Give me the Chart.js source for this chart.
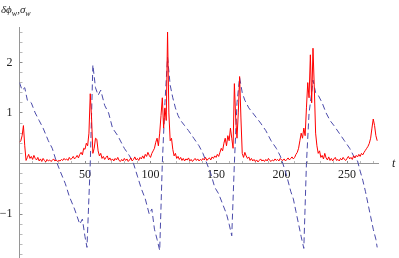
<!DOCTYPE html>
<html>
<head>
<meta charset="utf-8">
<script src="https://cdn.jsdelivr.net/npm/chart.js@4"></script>
<style>
  html, body { margin: 0; padding: 0; background: #fff; }
  #wrap { position: relative; width: 399px; height: 258px; }
  .lbl { position: absolute; font-family: "Liberation Serif", serif; font-style: italic; color: #222; font-size: 11px; line-height: 1; white-space: nowrap; }
  .lbl sub { font-size: 8px; vertical-align: -3px; }
</style>
</head>
<body>
<div id="wrap">
  <canvas id="c" width="399" height="258"></canvas>
  <div class="lbl" style="left:1px;top:4px">δϕ<sub>w</sub>,σ<sub>w</sub></div>
  <div class="lbl" style="left:392px;top:157px;font-size:12px">t</div>
</div>
<script>
// sigma_w (rood), jedna vrijednost po t = 0, 1, 2, ...
const redValues = [
  0.42, 0.45, 0.55, 0.75, 0.35, 0.06, 0.12, 0.18, 0.10, 0.14, 0.08, 0.16, 0.10,
  0.07, 0.12, 0.05, 0.09, 0.04, 0.10, 0.06, 0.03, 0.08, 0.05, 0.07, 0.04, 0.06, 0.09, 0.05, 0.07, 0.04, 0.06, 0.05, 0.08, 0.06, 0.10, 0.07, 0.09, 0.06, 0.12, 0.08, 0.10, 0.14, 0.09, 0.12, 0.16, 0.11,
  0.18, 0.22, 0.17, 0.30, 0.28, 0.40, 0.35, 0.60, 1.38, 0.90, 0.20, 0.30, 0.50, 0.48, 0.25, 0.15, 0.20, 0.10, 0.14, 0.08, 0.12, 0.15, 0.07, 0.11, 0.06,
  0.09, 0.05, 0.10, 0.07, 0.12, 0.06, 0.04, 0.08, 0.05, 0.10, 0.06, 0.09, 0.04, 0.07, 0.11, 0.05, 0.08, 0.13, 0.07, 0.10, 0.06, 0.12, 0.09, 0.15, 0.10,
  0.18, 0.14, 0.22, 0.16, 0.12, 0.20, 0.25, 0.30, 0.42, 0.50, 0.35, 0.60, 0.95, 1.30, 0.70, 1.10, 0.85, 2.60, 1.00, 0.45, 0.50, 0.28, 0.15, 0.20, 0.10,
  0.14, 0.08, 0.12, 0.06, 0.10, 0.05, 0.09, 0.07, 0.11, 0.05, 0.08, 0.04, 0.07, 0.10, 0.06, 0.09, 0.05, 0.08, 0.06, 0.10, 0.07, 0.12, 0.06, 0.09, 0.11, 0.07, 0.13, 0.10, 0.15, 0.12,
  0.18, 0.14, 0.22, 0.30, 0.25, 0.40, 0.50, 0.35, 0.55, 0.45, 0.70, 0.50, 0.30, 1.58, 0.90, 0.50, 1.00, 1.72, 0.90, 0.20, 0.12, 0.22, 0.15, 0.10, 0.13,
  0.06, 0.10, 0.05, 0.08, 0.04, 0.07, 0.03, 0.06, 0.09, 0.05, 0.07, 0.04, 0.08, 0.05, 0.10, 0.06, 0.04, 0.07, 0.05, 0.09, 0.06, 0.08, 0.05, 0.10, 0.07, 0.06, 0.09, 0.05, 0.08, 0.11, 0.07, 0.10, 0.13, 0.09, 0.12,
  0.18, 0.22, 0.30, 0.45, 0.60, 0.50, 0.70, 0.55, 1.10, 1.60, 1.30, 2.15, 1.20, 2.28, 1.50, 0.60, 0.35, 0.20, 0.25, 0.12,
  0.16, 0.09, 0.20, 0.11, 0.07, 0.13, 0.06, 0.10, 0.05, 0.09, 0.12, 0.06, 0.08, 0.05, 0.10, 0.07, 0.12, 0.08, 0.06, 0.10, 0.14, 0.09, 0.12, 0.08, 0.15, 0.11, 0.16, 0.13, 0.18, 0.14, 0.20, 0.17,
  0.22, 0.26, 0.30, 0.34, 0.40, 0.50, 0.70, 0.88, 0.75, 0.55, 0.45
];

// delta phi_w (plavo, isprekidano) - tacke ocitane sa slike
const blueT = [
  0, 2, 4, 6, 9, 12, 15, 18, 22, 25, 28, 31, 35, 38, 42, 46, 48, 50, 51.5, 54, 56,
  58, 60, 62, 65, 68, 71, 75, 80, 84, 87, 90, 93, 96, 99, 101, 103, 105, 107, 109, 111, 113,
  115, 117, 119, 121, 123, 126, 129, 133, 137, 140, 143, 146, 149, 152, 155, 158, 160, 162, 164, 166, 168,
  170, 172, 175, 178, 181, 184, 188, 192, 196, 199, 201, 204, 207, 209, 211, 213, 215, 217, 219, 221, 223, 224,
  226, 228, 231, 234, 237, 240, 244, 248, 252, 255, 258, 260, 262, 264, 266, 268, 270, 272, 273
];
const blueValues = [
  1.60, 1.45, 1.50, 1.25, 1.20, 1.00, 0.85, 0.70, 0.45, 0.30, 0.05, -0.15, -0.40, -0.65, -0.90, -1.20, -1.10, -1.45, -1.66, 0.00, 1.95,
  1.50, 1.35, 1.45, 1.15, 1.00, 0.70, 0.55, 0.30, 0.15, 0.00, -0.25, -0.50, -0.70, -1.00, -0.90, -1.30, -1.50, -1.72, 0.00, 1.20, 2.10,
  1.55, 1.30, 1.10, 0.95, 0.85, 0.75, 0.65, 0.50, 0.35, 0.20, 0.00, -0.20, -0.47, -0.60, -0.80, -1.00, -1.20, -1.43, 0.00, 1.20, 1.70,
  1.40, 1.25, 1.10, 1.00, 0.90, 0.80, 0.65, 0.45, 0.30, 0.15, 0.00, -0.25, -0.55, -0.70, -0.95, -1.20, -1.45, -1.68, 0.00, 1.00, 1.40, 1.65,
  1.40, 1.35, 1.20, 1.00, 0.85, 0.75, 0.60, 0.45, 0.30, 0.15, 0.05, -0.15, -0.33, -0.55, -0.80, -1.05, -1.30, -1.50, -1.66
];

const xMin = 0, xMax = 274;
const yMin = -1.85, yMax = 2.7;

// pravljenje tacaka za Chart.js
let redPoints = redValues.map((v, i) => ({ x: i, y: v }));
let bluePoints = blueT.map((t, i) => ({ x: t, y: blueValues[i] }));

const labelFont = { family: "'Liberation Serif', serif", size: 12 };

new Chart(document.getElementById("c"), {
  type: "line",
  data: {
    datasets: [
      {
        data: redPoints,
        borderColor: "rgb(255, 0, 0)",
        borderWidth: 1,
        borderJoinStyle: "round",
        pointRadius: 0,
        fill: false,
        tension: 0,
      },
      {
        data: bluePoints,
        borderColor: "rgb(75, 75, 170)",
        borderWidth: 1,
        borderDash: [6, 3.5],
        pointRadius: 0,
        fill: false,
        tension: 0,
      },
    ],
  },
  options: {
    responsive: false,
    animation: false,
    layout: { padding: { top: 27, right: 20.5, bottom: 1, left: 0 } },
    plugins: { legend: { display: false }, tooltip: { enabled: false } },
    scales: {
      x: {
        type: "linear",
        min: xMin,
        max: xMax,
        position: { y: 0 },
        // os lezi unutar grafika, ne smije zauzeti mjesto
        afterFit: (scale) => { scale.height = 0; scale.paddingLeft = 0; scale.paddingRight = 0; },
        border: { color: "rgb(150,150,150)", width: 1 },
        grid: {
          drawOnChartArea: false,
          tickLength: -3,
          tickColor: (ctx) => (ctx.tick && ctx.tick.value % 50 === 0 ? "rgb(140,140,140)" : "rgb(185,185,185)"),
        },
        ticks: {
          stepSize: 10,
          autoSkip: false,
          includeBounds: false,
          maxRotation: 0,
          padding: 7,
          color: "#222",
          font: labelFont,
          callback: (v) => (v !== 0 && v % 50 === 0 ? String(v) : ""),
        },
      },
      y: {
        min: yMin,
        max: yMax,
        position: "left",
        afterFit: (scale) => { scale.width = 19.5; scale.paddingTop = 0; scale.paddingBottom = 0; },
        border: { color: "rgb(150,150,150)", width: 1 },
        grid: {
          drawOnChartArea: false,
          tickLength: -3,
          tickColor: (ctx) => {
            let v = ctx.tick ? ctx.tick.value : 0.5;
            return Math.abs(v - Math.round(v)) < 1e-6 ? "rgb(140,140,140)" : "rgb(185,185,185)";
          },
        },
        ticks: {
          stepSize: 0.2,
          autoSkip: false,
          includeBounds: false,
          padding: 10,
          color: "#222",
          font: labelFont,
          callback: (v) => {
            if (Math.abs(v - Math.round(v)) > 1e-6 || Math.round(v) === 0) return "";
            let n = Math.round(v);
            return n < 0 ? "\u2212" + Math.abs(n) : String(n);
          },
        },
      },
    },
  },
});
</script>
</body>
</html>
